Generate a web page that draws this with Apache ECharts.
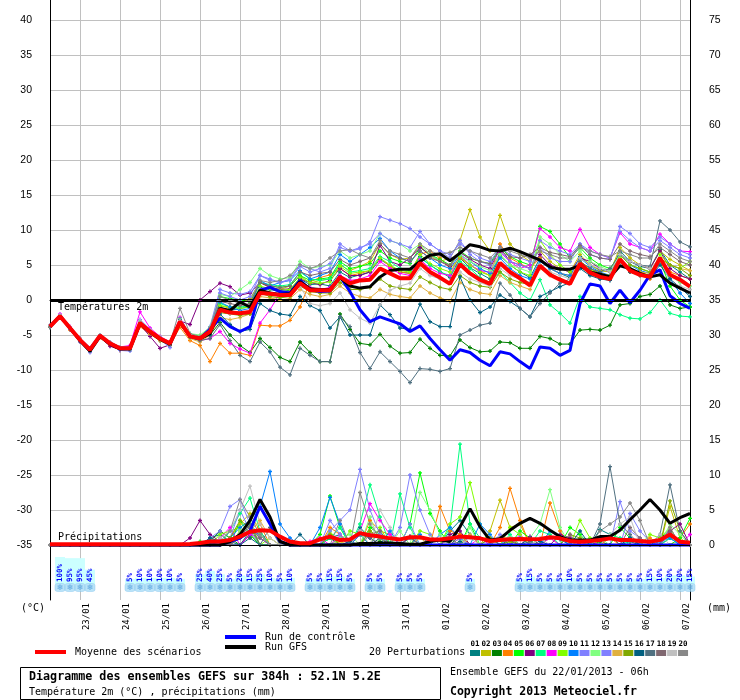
<!DOCTYPE html>
<html><head><meta charset="utf-8">
<script src="https://cdn.jsdelivr.net/npm/echarts@6/dist/echarts.min.js"></script>
<style>html,body{margin:0;padding:0;background:#fff}#c{width:740px;height:700px}</style>
</head><body><div id="c"></div>
<script>
// ---------- DATA ----------
const dayLabels = ['23/01','24/01','25/01','26/01','27/01','28/01','29/01','30/01','31/01','01/02','02/02','03/02','04/02','05/02','06/02','07/02'];
const tempTicks = [-35,-30,-25,-20,-15,-10,-5,0,5,10,15,20,25,30,35,40];
const precipTicks = [0,5,10,15,20,25,30,35,40,45,50,55,60,65,70,75];
const memberNames = ['01','02','03','04','05','06','07','08','09','10','11','12','13','14','15','16','17','18','19','20'];

const meanTemp = [-3.8,-2.3,-4.0,-5.7,-7.1,-5.1,-6.2,-6.9,-6.9,-3.3,-4.5,-5.5,-6.2,-3.1,-5.2,-5.5,
 -4.5,-1.4,-1.8,-1.9,-1.7,1.0,0.9,0.7,0.7,2.4,1.4,1.4,1.4,3.3,2.4,2.8,2.9,4.5,3.8,3.1,3.1,5.3,4.0,3.2,
 2.3,5.1,3.8,2.9,2.3,5.3,4.0,3.1,2.1,4.9,3.6,2.9,2.3,5.2,3.9,3.3,3.0,5.8,4.2,3.6,3.3,6.0,3.6,2.9,1.9];
const controlTemp = [-3.8,-2.3,-4.0,-5.7,-7.0,-5.1,-6.2,-6.9,-6.9,-3.3,-4.5,-5.5,-6.2,-3.1,-5.2,-5.5,
 -4.2,-2.6,-3.8,-4.5,-3.8,1.4,1.8,1.2,1.0,2.8,1.5,1.2,1.3,3.4,1.2,-1.4,-3.1,-2.4,-2.9,-3.4,-4.5,
 -3.7,-5.5,-7.1,-8.6,-7.1,-7.5,-8.6,-9.4,-7.4,-7.7,-8.8,-9.8,-6.7,-6.9,-7.9,-7.2,
 -0.5,2.3,2.0,-0.5,1.4,-0.4,1.4,3.6,4.3,0.6,-0.5,-1.2];
const gfsTemp = [-3.8,-2.3,-4.0,-5.8,-7.3,-5.2,-6.3,-7.0,-7.0,-3.4,-4.6,-5.6,-6.3,-3.2,-5.2,-5.5,
 -4.8,-1.2,-1.5,-0.3,-1.0,1.4,1.0,0.8,0.9,2.6,1.6,1.5,1.5,3.2,2.0,1.7,1.9,3.3,4.2,4.4,4.4,
 5.5,6.4,6.6,5.6,6.7,7.9,7.6,7.1,7.0,7.4,6.9,6.3,5.7,4.7,4.4,4.4,
 4.9,4.0,3.7,3.3,4.9,4.5,3.8,3.3,3.6,2.4,1.7,1.0];

const t01 = [-3.9,-2.5,-4.2,-5.9,-7.3,-5.0,-6.1,-6.8,-7.0,-3.0,-4.3,-5.4,-6.3,-2.9,-5.0,-5.6,-4.2,
 -1.0,-1.5,-1.2,-1.0, 1.8,1.5,1.2,1.4, 3.0,2.2,2.3,2.0, 4.0,3.2,3.6,4.0, 5.8,4.9,4.0,3.8, 6.2,5.0,4.1,3.2,
 6.0,4.6,3.8,3.0, 6.3,5.0,4.0,3.2, 6.0,4.5,3.8,3.2, 6.2,5.0,4.3,4.0, 7.0,5.5,4.8,4.5, 7.2,5.0,4.0,3.0];
const t02 = [-3.7,-2.2,-3.9,-5.6,-7.0,-5.2,-6.3,-7.0,-6.8,-3.4,-4.6,-5.6,-6.1,-3.2,-5.3,-5.4,-4.6,
 -0.8,-1.2,-0.5,0.2, 2.5,1.8,1.5,2.0, 3.5,2.4,2.8,3.0, 5.0,4.2,4.8,5.5, 8.0,6.5,5.8,6.0, 7.8,6.2,5.5,6.0,
 8.5,12.9,9.0,7.0, 12.1,8.0,6.5,5.5, 7.0,5.5,4.5,4.0, 6.5,5.0,4.2,4.0, 7.5,6.0,5.0,4.5, 7.0,5.8,5.0,4.2];
const t03 = [-3.8,-2.4,-4.1,-5.8,-7.2,-5.2,-6.3,-7.0,-7.1,-3.6,-4.7,-5.8,-6.5,-3.0,-5.4,-5.8,-5.0,
 -3.2,-5.0,-6.5,-7.5, -5.5,-6.8,-8.2,-8.8, -6.0,-7.5,-8.8,-8.8, -2.0,-4.2,-6.2,-6.4, -4.9,-6.6,-7.6,-7.5,
 -5.6,-6.9,-7.9,-8.0, -5.7,-6.8,-7.4,-7.3, -6.0,-6.1,-6.9,-6.9, -5.2,-5.5,-6.3,-6.3, -4.3,-4.2,-4.3,-3.6,
 -0.7,-0.5,0.5,0.8, 2.0,-0.7,-1.2,-1.0];
const t04 = [-3.6,-2.4,-4.3,-6.0,-7.4,-5.4,-6.5,-7.2,-7.0,-3.8,-4.9,-5.8,-6.4,-3.9,-5.8,-6.5,-8.8,
 -6.2,-7.6,-7.6,-7.9, -3.6,-3.7,-3.7,-2.9, -1.0,2.6,3.2,3.6, 4.5,3.5,3.8,4.2, 6.0,4.8,4.0,3.8, 6.5,7.0,6.0,4.5,
 6.0,5.0,4.2,3.5, 8.0,6.0,5.2,4.5, 6.0,4.5,3.8,3.5, 5.5,4.2,3.5,3.2, 5.5,4.0,3.5,3.0, 5.5,4.0,3.5,3.0];
const t05 = [-3.8,-2.2,-3.9,-5.5,-6.9,-5.0,-6.0,-6.7,-6.8,-3.1,-4.4,-5.4,-6.0,-2.8,-4.9,-5.2,-4.0,
 0.5,0.2,0.0,-0.3, 2.5,2.0,1.8,2.0, 3.5,2.8,3.0,3.2, 5.5,4.5,4.8,5.2, 7.0,6.0,5.5,5.2, 7.5,6.5,5.8,5.0,
 7.0,6.0,5.5,5.2, 7.5,6.2,5.5,5.0, 10.5,9.8,8.0,6.0, 7.5,6.0,5.0,4.5, 6.5,5.0,4.5,4.0, 5.5,2.0,0.0,-1.0];
const t06 = [-3.9,-2.4,-4.1,-5.9,-7.0,-5.3,-6.6,-7.1,-6.6,-3.5,-5.2,-6.9,-6.4,-3.0,-3.5,0.0,1.2,
 2.4,1.9,0.7,1.0, 2.5,1.8,1.5,1.6, 3.0,2.5,2.2,2.8, 4.5,3.5,3.5,4.0, 7.8,5.5,5.0,6.0, 7.5,6.5,5.5,4.8,
 6.8,5.8,5.0,4.5, 7.5,5.5,5.0,4.5, 6.5,5.0,4.5,4.0, 6.0,5.5,4.5,4.0, 6.5,5.5,5.0,4.5, 7.0,4.5,3.5,3.0];
const t07 = [-3.7,-2.3,-4.0,-5.6,-7.0,-5.0,-6.1,-6.8,-6.7,-3.2,-4.4,-5.3,-6.1,-3.3,-5.1,-5.3,-4.5,
 -0.5,-1.0,-1.0,-0.8, 2.5,2.2,2.0,2.2, 4.0,3.0,2.8,3.0, 5.2,4.0,4.2,4.5, 6.2,5.5,4.5,4.2, 6.0,5.0,4.0,3.5,
 5.5,4.5,3.2,2.5, 4.0,2.5,1.0,0.0, 2.9,-0.7,-1.9,-3.3, 0.5,-1.0,-1.2,-1.4, -2.1,-2.6,-2.7,-1.8, 0.0,-1.9,-2.3,-2.4];
const t08 = [-3.8,-2.0,-3.8,-5.5,-7.0,-5.0,-6.0,-6.7,-6.5,-1.7,-4.0,-5.2,-6.0,-2.5,-5.0,-5.8,-5.5,
 -4.5,-6.2,-7.0,-7.6, -3.3,-1.4,1.0,1.2, 2.5,1.8,1.5,1.8, 3.5,2.8,3.0,3.5, 5.5,4.5,3.8,3.5, 5.8,4.5,3.8,3.5,
 6.5,5.0,4.2,4.0, 6.8,5.5,4.5,5.0, 10.2,9.0,7.5,7.0, 10.1,7.5,6.5,6.0, 9.6,8.0,7.5,7.0, 9.4,8.0,7.0,6.9];
const t09 = [-3.8,-2.3,-4.0,-5.7,-7.1,-5.1,-6.2,-6.9,-6.9,-3.1,-4.5,-5.5,-6.2,-3.4,-5.3,-5.6,-4.3,
 -0.8,-1.0,-1.2,-1.0, 2.0,1.6,1.4,1.5, 3.2,2.5,2.4,2.6, 4.8,3.8,4.0,4.2, 6.0,5.0,4.2,4.0, 6.5,5.2,4.5,4.0,
 6.2,5.0,4.0,3.5, 6.5,5.0,4.0,3.5, 8.5,6.5,5.0,4.0, 5.5,4.5,3.5,3.0, 6.0,4.5,4.0,3.5, 6.5,5.0,4.5,5.5];
const t10 = [-3.9,-2.4,-4.0,-5.8,-7.2,-5.0,-6.1,-6.8,-6.9,-3.2,-4.3,-5.3,-6.1,-3.0,-5.0,-5.4,-4.0,
 -0.3,-1.0,-1.5,-1.2, 2.8,2.0,2.5,2.8, 4.2,3.0,3.5,4.0, 6.5,5.5,6.5,7.5, 8.8,7.0,6.0,5.5, 7.0,6.0,5.0,4.5,
 6.5,5.5,4.5,3.8, 6.0,4.5,3.5,3.0, 5.5,4.5,3.8,3.5, 6.0,4.8,4.0,3.5, 6.5,5.0,4.2,3.8, 6.0,3.0,1.0,-0.5];
const t11 = [-3.6,-2.1,-4.2,-6.0,-7.5,-5.2,-6.3,-7.2,-7.3,-2.8,-4.2,-5.6,-6.8,-2.6,-5.0,-5.3,-3.8,
 1.5,1.0,0.8,1.2, 3.5,2.8,2.5,3.0, 5.0,4.5,4.0,4.5, 8.0,7.0,7.3,8.3, 11.9,11.4,10.9,10.2, 9.0,8.0,7.0,6.5,
 8.0,7.0,6.0,5.5, 7.5,6.5,6.0,5.5, 8.5,7.5,7.0,6.5, 8.0,7.0,6.5,6.0, 9.8,8.5,7.5,7.0, 8.5,7.5,6.5,6.0];
const t12 = [-3.7,-2.2,-3.9,-5.6,-7.0,-5.1,-6.1,-6.8,-6.8,-3.0,-4.4,-5.4,-6.1,-2.7,-4.8,-5.0,-3.9,
 0.8,0.5,1.5,2.5, 4.5,3.5,3.0,3.2, 5.5,4.5,4.8,5.0, 7.0,6.0,6.5,7.0, 9.5,8.5,8.0,7.0, 8.0,6.5,5.5,5.0,
 6.5,5.5,4.8,4.2, 6.5,5.0,4.5,4.0, 9.0,8.0,6.5,5.5, 7.0,5.5,4.8,4.2, 6.5,5.0,4.5,4.0, 5.5,3.5,2.5,2.0];
const t13 = [-3.8,-2.3,-4.1,-5.8,-7.0,-5.0,-6.0,-6.9,-7.0,-3.3,-4.6,-5.6,-6.3,-3.2,-5.1,-5.5,-4.2,
 1.0,0.5,0.0,0.5, 3.5,3.0,2.5,2.8, 4.8,4.0,4.5,5.2, 7.5,7.0,7.5,8.0, 9.5,8.5,8.0,7.5, 9.8,8.0,7.0,6.0,
 8.5,6.5,5.5,5.0, 7.0,5.5,5.0,4.5, 7.5,6.0,5.5,5.5, 8.0,6.5,6.0,5.8, 10.5,9.5,8.0,7.5, 9.0,8.0,7.0,6.5];
const t14 = [-3.9,-2.4,-4.0,-5.7,-7.0,-5.3,-6.3,-7.0,-7.0,-3.5,-4.8,-5.7,-6.3,-3.5,-5.5,-6.0,-5.0,
 -2.5,-2.8,-2.5,-2.0, 0.5,0.3,0.0,0.2, 1.5,0.8,0.5,0.8, 2.0,1.0,0.5,0.3, 1.5,0.8,0.5,0.3, 2.0,1.0,0.3,-0.2,
 2.5,1.5,1.0,0.8, 3.5,2.5,2.0,1.5, 4.5,3.5,3.0,2.5, 5.0,4.0,3.5,3.2, 5.5,4.5,4.0,3.8, 6.0,5.0,4.5,4.2];
const t15 = [-3.8,-2.3,-4.0,-5.7,-7.1,-5.2,-6.2,-6.9,-6.9,-3.4,-4.6,-5.6,-6.2,-3.3,-5.3,-5.7,-4.8,
 -1.8,-2.0,-2.2,-2.0, 1.0,0.5,0.3,0.5, 2.0,1.2,1.0,1.0, 2.5,1.5,1.5,1.8, 3.0,2.0,1.7,1.5, 3.3,2.5,1.8,1.5,
 3.5,2.5,2.0,1.8, 4.0,3.0,2.5,2.2, 5.0,3.8,3.0,2.5, 5.5,4.5,3.8,3.5, 6.5,5.0,4.5,4.0, 6.0,5.0,4.5,3.5];
const t16 = [-3.8,-2.4,-4.1,-5.8,-7.2,-5.1,-6.2,-7.0,-7.0,-3.4,-4.6,-5.6,-6.3,-2.8,-5.2,-5.6,-5.0,
 -2.0,-3.5,-4.5,-4.2, -0.5,-1.5,-2.0,-2.2, 0.5,-0.8,-1.5,-4.0, -2.4,-5.0,-5.0,-5.0, -0.7,-2.1,-4.0,-4.2,
 -0.6,-3.1,-3.8,-3.8, 3.3,0.0,-1.8,-1.0, 0.7,-0.2,-1.2,-2.4, 0.5,1.2,1.9,2.5, 4.5,3.5,3.0,2.8,
 5.5,4.0,3.5,3.2, 5.0,3.0,1.8,0.5];
const t17 = [-3.8,-2.3,-4.0,-5.8,-7.3,-5.2,-6.2,-7.0,-7.1,-3.5,-4.6,-5.5,-6.2,-3.1,-5.3,-5.8,-5.5,
 -3.5,-5.8,-7.9,-8.8, -6.0,-7.4,-9.6,-10.7, -6.9,-7.9,-8.8,-8.8, -2.4,-3.8,-7.5,-9.8, -7.4,-8.8,-10.2,-11.8,
 -9.8,-9.9,-10.2,-9.8, -5.0,-4.3,-3.6,-3.3, 2.4,0.7,-1.2,-2.4, -0.5,1.0,2.4,3.0, 5.5,4.5,4.0,4.5,
 6.5,5.5,5.0,4.8, 11.3,10.0,8.3,7.6];
const t18 = [-3.8,-2.3,-4.0,-5.6,-7.0,-5.0,-6.1,-6.8,-6.8,-3.2,-4.4,-5.4,-6.1,-3.0,-5.1,-5.4,-4.4,
 -0.2,-0.5,-0.8,-0.5, 2.5,2.0,1.8,2.0, 4.0,3.5,3.8,4.0, 5.8,5.0,5.5,6.0, 8.0,6.5,6.0,5.5, 7.0,6.0,5.5,5.0,
 6.8,6.0,5.5,5.2, 7.0,6.2,6.0,6.5, 7.5,6.8,6.5,6.2, 7.8,6.5,6.0,5.8, 8.0,7.0,6.5,6.2, 7.5,6.5,5.5,5.0];
const t19 = [-3.7,-2.2,-3.9,-5.6,-6.9,-5.0,-6.0,-6.7,-6.7,-3.0,-4.3,-5.3,-6.0,-2.9,-5.0,-5.3,-4.5,
 -1.5,-2.0,-1.8,-1.5, 1.5,1.0,0.8,0.9, 2.0,-0.5,-0.8,-0.5, 1.0,-1.4,-2.6,-3.3, -0.7,1.4,2.0,2.4, 4.5,3.5,3.0,2.5,
 4.0,3.0,2.5,2.0, 4.5,3.5,3.0,2.5, 5.0,4.0,3.5,3.0, 6.0,5.0,4.5,4.0, 6.5,5.5,5.0,4.5, 6.0,2.5,2.0,1.5];
const t20 = [-3.8,-2.4,-4.1,-5.8,-7.2,-5.1,-6.2,-6.9,-6.9,-3.2,-4.5,-5.5,-6.2,-1.2,-4.8,-5.2,-4.0,
 0.5,0.0,-0.5,0.0, 2.8,2.5,2.8,3.5, 5.0,4.5,5.0,6.0, 7.0,7.2,6.5,6.0, 8.5,7.0,6.5,6.0, 8.0,7.0,6.5,6.8,
 7.5,7.0,6.5,6.0, 7.5,7.0,6.5,6.0, 7.0,6.5,6.0,6.0, 7.5,7.0,6.5,6.2, 7.0,6.5,6.0,6.0, 8.0,7.0,6.0,5.5];

const meanPrecip = [0.1,0.1,0.1,0.1,0.1,0.1,0.1,0.1,0.1,0.1,0.1,0.1,0.1,
 0.1,0.15,0.3,0.5,0.5,0.7,1.2,1.9,2.1,2.05,1.2,0.5,0.25,
 0.25,0.8,1.2,0.7,0.8,1.7,1.4,1.2,0.95,0.8,1.1,1.1,0.8,
 0.8,0.95,1.2,1.1,0.95,0.57,0.71,0.81,0.86,0.81,0.86,1.1,0.95,
 0.57,0.48,0.57,0.71,0.95,0.71,0.71,0.57,0.48,0.71,1.5,0.48,0.33];
const controlPrecip = [0,0,0,0,0,0,0,0,0,0,0,0,0,
 0,0,0,0,0,0.5,1,2,5.5,3,0.5,0,0,
 0,0,0,0,0,0,0,0,0,0,0,0,0,
 0,0,0,0,0,0,0,0,0,0,0,0,0,
 0,0,0,0,0,0,0,0,0,0,0,0,0];
const gfsPrecip = [0,0,0,0,0,0,0,0,0,0,0,0,0,
 0,0,0,0,0,0.5,1.5,3.5,6.5,4,0.5,0,0,
 0,0,0,0,0,0.2,0.2,0.3,0.3,0.2,0.1,0.1,0.5,
 0.7,0.5,2.6,5.2,2.6,0.7,0.9,2.1,3.1,3.8,3.1,2.1,1.2,
 0.7,0.7,0.7,1.2,1.2,2.1,3.6,5.0,6.5,5.0,3.1,3.9,4.5];

const p01 = [0,0,0,0,0,0,0,0,0,0,0,0,0, 0,0,0,1,1.5,.5,0,2,1.5,0,0,.3,0, 0,0,1,1.5,0,2.5,1,0,0,0,1.2,0,0, 0,2,3.5,1.5,0,0,1,0,0,0,0,1.2,.8, 0,0,0,2.2,1.5,0,.5,0,0,0,1,0,0];
const p02 = [0,0,0,0,0,0,0,0,0,0,0,0,0, 0,0,0,0,0,1,3,4.5,2,0,0,0,0, 0,0,1.5,0,0,0,2,1,0,0,0,0,0, 0,0,1,0,0,2,6.4,2.5,3,0,0,1,0, 0,0,0,0,0,0,1,0,0,0,5.5,1,0];
const p03 = [0,0,0,0,0,0,0,0,0,0,0,0,0, 0,0,0,.5,2,1,0,1.5,0,0,0,0,0, 0,0,1,0,0,0,0,.5,0,0,0,0,0, 0,0,1.5,0,0,0,0,.8,0,0,0,0,0, 0,0,0,.5,0,0,0,0,0,1,2,0,0];
const p04 = [0,0,0,0,0,0,0,0,0,0,0,0,0, 0,0,0,0,0,0,2,1,3,0,0,0,0, 0,0,2.5,1.5,0,0,3.5,2,1.5,0,0,0,0, 5.5,2,1.5,0,0,0,2.5,8.1,3.5,0,0,6,2, 0,0,0,0,1,0,0,0,1,0,0,1,3];
const p05 = [0,0,0,0,0,0,0,0,0,0,0,0,0, 0,0,.5,0,1,0,3.5,1.5,0,0,0,0,0, 0,1.5,7,2.5,0,0,2.5,1.5,0,0,3,10.3,4.5, 2,0,0,3,0,1,0,0,2,1,0,0,0, 2.5,1.5,0,0,0,2.5,1,0,0,0,0,1,3.8];
const p06 = [0,0,0,0,0,0,0,0,0,0,0,0,0, 0,1,3.5,1.5,.5,0,0,1.5,2,0,0,0,0, 0,0,0,1,0,1.5,1,0,0,0,1.2,0,0, 0,1.5,2,0,0,0,0,0,0,1.2,0,0,1.5, 1,0,0,0,0,0,0,0,0,0,2,3,0];
const p07 = [0,0,0,0,0,0,0,0,0,0,0,0,0, 0,0,0,0,0,2,4.5,6.7,2,0,0,0,0, 0,0,1,2.5,0,3,8.6,4,0,7.3,2.5,0,0, 0,2.5,14.4,3,1,0,0,1.5,0,0,2,1.5,0, 0,0,0,0,1.5,1,0,0,0,0,1,0,0];
const p08 = [0,0,0,0,0,0,0,0,0,0,0,0,0, 0,0,0,0,1,2.5,0,1.5,1,0,0,0,0, .5,1,0,1.5,0,2,5.9,3.5,1.5,0,0,0,0, 0,0,1,0,1,0,0,0,1.5,0,0,1,0, 0,0,.5,0,0,0,0,0,0,0,2.5,0,1.5];
const p09 = [0,0,0,0,0,0,0,0,0,0,0,0,0, 0,0,0,0,1.5,2,2.5,3.5,0,1,0,0,0, 0,0,2,0,2,1.5,0,2.5,0,0,0,2,1.5, 0,3,4,8.9,3,0,0,2.5,1.5,0,0,0,0, 0,3.5,1,0,0,0,0,0,1.5,1,2.5,0,0];
const p10 = [0,0,0,0,0,0,0,0,0,0,0,0,0, 0,0,0,0,0,1,2.5,3.5,5.5,10.5,3,1,0, 0,2.5,6.8,3,0,1.5,0,0,2,0,0,1.5,0, 1.5,2.5,1,0,3,1.5,0,0,1,0,0,2,1, 0,0,0,0,0,0,1,0,0,.5,1,0,0];
const p11 = [0,0,0,0,0,0,0,0,0,0,0,0,0, 0,0,0,1,2,5.5,6.5,3,1,0,0,0,0, 0,0,2,3.5,5,10.8,5,1.5,0,2.5,10,5,1.5, 0,0,0,0,0,1,0,1,0,0,0,0,0, 0,0,0,0,0,6.2,2,1,0,0,1.5,0,0];
const p12 = [0,0,0,0,0,0,0,0,0,0,0,0,0, 0,0,0,0,.5,0,2,3,1.5,0,0,0,0, 0,0,0,1,1.5,0,4,0,0,2,0,7.5,5, 1.5,0,0,2.5,0,0,0,0,0,1,3,7.9,2.5, 0,0,0,1,0,0,0,0,0,0,3,1.5,0];
const p13 = [0,0,0,0,0,0,0,0,0,0,0,0,0, 0,0,0,0,0,1,5,2,0,0,0,0,0, 0,0,3.5,1.5,0,0,0,2,0,0,3,0,0, 0,0,1,0,0,0,1.5,0,0,0,0,0,0, 0,0,0,0,0,0,4.5,2,.5,0,0,0,0];
const p14 = [0,0,0,0,0,0,0,0,0,0,0,0,0, 0,0,0,0,0,0,1,2,3.5,1,0,0,0, 0,0,0,.5,0,0,0,1,0,0,0,1,0, 0,0,0,1.5,0,0,1,1,0,0,0,0,0, 0,.5,0,0,0,0,0,0,0,0,0,0,0];
const p15 = [0,0,0,0,0,0,0,0,0,0,0,0,0, 0,0,0,0,0,1,3.5,2.5,0,0,0,0,0, 0,0,1.5,0,0,0,2,1,0,0,0,0,0, 0,0,0,0,0,1,0,.5,0,0,0,0,0, 1.5,1,0,0,0,0,0,0,0,0,6.3,2,0];
const p16 = [0,0,0,0,0,0,0,0,0,0,0,0,0, 0,0,0,1,.5,0,0,1,0,0,0,0,1.5, 0,0,0,0,.5,0,0,1,0,0,0,0,0, 0,0,.5,0,0,0,0,0,0,1,.5,0,0, 0,2,0,0,0,0,1,0,0,0,0,0,0];
const p17 = [0,0,0,0,0,0,0,0,0,0,0,0,0, 0,0,0,0,0,0,1,3,0,2.5,0,0,0, 0,0,0,0,0,2,1,0,0,0,1,0,0, 0,0,0,0,0,0,0,0,0,.5,0,0,0, 0,0,0,3,11.2,3,1.5,0,0,1.5,8.6,2,0];
const p18 = [0,0,0,0,0,0,0,0,0,0,0,0,0, 0,0,0,0,0,0,1.5,2.5,1,0,0,0,0, 0,0,0,0,0,0,1.5,2,0,0,0,0,0, 0,1,0,0,0,0,0,0,0,0,0,0,0, 1.5,0,0,0,0,0,2.5,1,0,0,2,0,0];
const p19 = [0,0,0,0,0,0,0,0,0,0,0,0,0, 0,0,0,0,1,2,5,8.4,3,1,0,0,0, 0,0,0,0,0,2,0,5,2.5,0,0,0,0, 0,0,0,1,0,0,0,0,0,0,1,0,0, 0,0,0,0,1.5,3,4,0,0,1.5,0,0,0];
const p20 = [0,0,0,0,0,0,0,0,0,0,0,0,0, 0,0,0,0,.5,2,6.5,4,1.5,0,0,0,0, 0,0,0,3.5,0,7.5,3,1,0,0,0,0,0, 0,1,0,0,0,0,0,0,0,0,0,0,0, 0,0,0,2,3,4,6,3.5,0,0,2.5,0,0];

// snow probability (%) per 6h step, null = no label
const snowPct = [null,100,95,95,45,null,null,null,5,10,10,10,10,5,null,25,40,25,5,20,15,25,10,5,10,
 null,5,5,15,15,5,null,5,5,null,5,5,5,null,null,null,null,5,null,null,null,null,
 5,15,5,5,5,10,5,5,5,5,5,5,5,15,10,20,20,15];

// ---------- STYLES ----------
const memberColors = ['#008080','#c0c000','#008000','#ff8000','#00ff00','#800080','#00ff80','#ff00ff','#80ff00','#0080ff',
  '#8080ff','#80ff80','#8080ff','#e0b040','#80a800','#006080','#507080','#806870','#c0c0c0','#888888'];
const memberTemps = [t01,t02,t03,t04,t05,t06,t07,t08,t09,t10,t11,t12,t13,t14,t15,t16,t17,t18,t19,t20];
const memberPrecips = [p01,p02,p03,p04,p05,p06,p07,p08,p09,p10,p11,p12,p13,p14,p15,p16,p17,p18,p19,p20];
const MONO = '"DejaVu Sans Mono", "Liberation Mono", monospace';
const PLUS = 'path://M1,0H2V1H3V2H2V3H1V2H0V1H1Z';
const steps = snowPct.map((_, i) => String(i * 6));

// snow strip layout: hidden axis, 0 at y=584 px, 0.23 px per %
const SNOW_PX = 0.23, SNOW_BASE_PX = 584, PLOT_BOTTOM = 600;
const snowAxisMin = -(PLOT_BOTTOM - SNOW_BASE_PX) / SNOW_PX;
const snowAxisMax = SNOW_BASE_PX / SNOW_PX;
const snowPad = 4 / SNOW_PX;          // constant 4px band under each label
const snowIcon = -3.5 / SNOW_PX;      // icon centre 3.5px below the band

const series = [];
memberTemps.forEach((d, k) => {
  series.push({type:'line', name:'T'+memberNames[k], data:d, yAxisIndex:0, symbol:PLUS, symbolSize:4,
    lineStyle:{width:1, color:memberColors[k]}, itemStyle:{color:memberColors[k]}, z:3});
});
memberPrecips.forEach((d, k) => {
  series.push({type:'line', name:'P'+memberNames[k], data:d, yAxisIndex:1, symbol:PLUS, symbolSize:4,
    lineStyle:{width:1, color:memberColors[k]}, itemStyle:{color:memberColors[k]}, z:3});
});
const bigLine = (name, data, axis, color, w) => ({type:'line', name, data, yAxisIndex:axis, symbol:'none',
  lineStyle:{width:w, color}, itemStyle:{color}, z:4});
series.push(bigLine('Run de contrôle', controlTemp, 0, '#0000ff', 3));
series.push(bigLine('Run de contrôle P', controlPrecip, 1, '#0000ff', 3));
series.push(bigLine('Run GFS', gfsTemp, 0, '#000000', 3));
series.push(bigLine('Run GFS P', gfsPrecip, 1, '#000000', 3));
const meanT = bigLine('Moyenne des scénarios', meanTemp, 0, '#ff0000', 4);
meanT.z = 5;
meanT.markLine = {silent:true, symbol:'none', animation:false,
  lineStyle:{color:'#000', width:1, type:'solid'},
  data:[{yAxis:0.5/7, label:{show:false}},
        {yAxis:-1.5/7, label:{show:true, position:'insideStartBottom', formatter:'Températures 2m', color:'#000',
          fontFamily:MONO, fontSize:10, distance:[8,1]}}]};
series.push(meanT);
const meanP = bigLine('Moyenne P', meanPrecip, 1, '#ff0000', 4);
meanP.z = 5;
meanP.markLine = {silent:true, symbol:'none', animation:false,
  lineStyle:{color:'#000', width:1, type:'solid'},
  data:[{yAxis:-0.5/7, label:{show:true, position:'insideStartTop', formatter:'Précipitations', color:'#000',
          fontFamily:MONO, fontSize:10, distance:[8,3]}}]};
series.push(meanP);

// snow probability: cyan background bars + labels, and snowflake icons
series.push({type:'bar', name:'neige0', data:snowPct.map(v => v == null ? null : snowPad), yAxisIndex:2,
  stack:'neige', barWidth:10, itemStyle:{color:'#ccffff'}, z:1, silent:true});
series.push({type:'bar', name:'neige', data:snowPct, yAxisIndex:2, stack:'neige', barWidth:10,
  itemStyle:{color:'#ccffff'}, z:1, silent:true,
  label:{show:true, position:'insideBottom', rotate:90, align:'left', verticalAlign:'middle', distance:-2,
    formatter:p => p.value + '%', color:'#0000ff', fontFamily:MONO, fontSize:7.5, fontWeight:'bold'}});
series.push({type:'scatter', name:'flocons', yAxisIndex:2, symbol:'roundRect', symbolSize:[10,8], silent:true,
  data: snowPct.map((v, i) => v == null ? null : [i, snowIcon]).filter(Boolean),
  itemStyle:{color:'#a8dcf6', borderColor:'#80c4ee', borderWidth:0.5}, z:2,
  label:{show:true, position:'inside', formatter:'\u2744', color:'#3d95d8', fontSize:8, fontFamily:'DejaVu Sans'}});

// ---------- GRAPHICS (legend / title box) ----------
const g = [];
const txt = (x, y, text, font, extra) => ({type:'text', x, y, silent:true,
  style:Object.assign({text, font, fill:'#000', verticalAlign:'middle', align:'left'}, extra || {})});
g.push({type:'line', silent:true, shape:{x1:35, y1:652, x2:66, y2:652}, style:{stroke:'#ff0000', lineWidth:4}});
g.push(txt(75, 652, 'Moyenne des scénarios', '10px ' + MONO));
g.push({type:'line', silent:true, shape:{x1:225, y1:637, x2:256, y2:637}, style:{stroke:'#0000ff', lineWidth:4}});
g.push(txt(265, 637, 'Run de contrôle', '10px ' + MONO));
g.push({type:'line', silent:true, shape:{x1:225, y1:647, x2:256, y2:647}, style:{stroke:'#000000', lineWidth:4}});
g.push(txt(265, 647, 'Run GFS', '10px ' + MONO));
g.push(txt(369, 652, '20 Perturbations', '10px ' + MONO));
memberNames.forEach((n, k) => {
  const x = 470 + k * 10.95;
  g.push({type:'rect', silent:true, shape:{x:x, y:650, width:10, height:6}, style:{fill:memberColors[k]}});
  g.push(txt(x + 5, 644, n, 'bold 7.5px ' + MONO, {align:'center'}));
});
g.push({type:'rect', silent:true, shape:{x:20.5, y:667.5, width:420, height:32}, style:{fill:'none', stroke:'#000', lineWidth:1}});
g.push(txt(29, 677, 'Diagramme des ensembles GEFS sur 384h : 52.1N 5.2E', 'bold 11.7px ' + MONO));
g.push(txt(29, 692, 'Température 2m (°C) , précipitations (mm)', '10px ' + MONO));
g.push(txt(450, 672, 'Ensemble GEFS du 22/01/2013 - 06h', '10px ' + MONO));
g.push(txt(450, 692, 'Copyright 2013 Meteociel.fr', 'bold 11.5px ' + MONO));

// ---------- CHART ----------
const chart = echarts.init(document.getElementById('c'), null, {renderer:'canvas'});
chart.setOption({
  animation:false,
  backgroundColor:'#ffffff',
  grid:{left:50, right:50, top:0, bottom:100, containLabel:false},
  xAxis:{type:'category', data:steps, boundaryGap:false,
    axisLine:{show:true, lineStyle:{color:'#000', width:1}}, axisTick:{show:false},
    splitLine:{show:true, interval:(i) => i % 4 === 3, lineStyle:{color:'#c0c0c0', width:1}},
    axisLabel:{interval:(i) => i % 4 === 3, formatter:(v, i) => dayLabels[(i - 3) / 4] || '', rotate:90,
      verticalAlign:'top', lineHeight:14, margin:3, color:'#000', fontFamily:MONO, fontSize:9}},
  yAxis:[
    {type:'value', min:-300/7, max:300/7, position:'left',
      axisLine:{show:true, lineStyle:{color:'#000'}}, axisTick:{show:false, customValues:tempTicks},
      axisLabel:{customValues:tempTicks, margin:18, color:'#000', fontFamily:'"Liberation Sans", Arial, sans-serif', fontSize:10.5},
      splitLine:{show:true, lineStyle:{color:'#c0c0c0', width:1}},
      name:'(°C)', nameLocation:'start', nameGap:3,
      nameTextStyle:{align:'right', verticalAlign:'top', padding:[0,5,0,0], color:'#000', fontFamily:MONO, fontSize:10}},
    {type:'value', min:-55/7, max:545/7, position:'right',
      axisLine:{show:true, lineStyle:{color:'#000'}}, axisTick:{show:false, customValues:precipTicks},
      axisLabel:{customValues:precipTicks, margin:19, color:'#000', fontFamily:'"Liberation Sans", Arial, sans-serif', fontSize:10.5},
      splitLine:{show:false},
      name:'(mm)', nameLocation:'start', nameGap:3,
      nameTextStyle:{align:'left', verticalAlign:'top', padding:[0,0,0,17], color:'#000', fontFamily:MONO, fontSize:10}},
    {type:'value', min:snowAxisMin, max:snowAxisMax, show:false, splitLine:{show:false}}
  ],
  series,
  graphic:g
});
</script>
</body></html>
